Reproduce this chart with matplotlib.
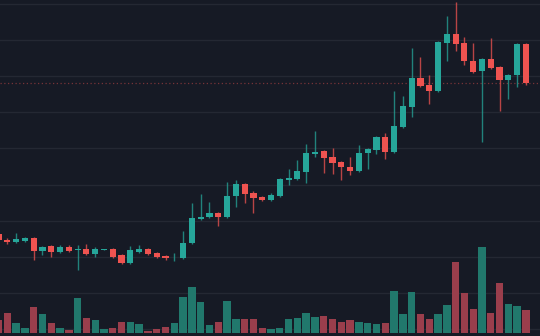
import numpy as np
import matplotlib.pyplot as plt

# daily candles, oldest first
opens = [363, 346, 341, 344, 352, 316, 330, 313, 327, 319, 321, 308, 319, 321, 305, 283,
         313, 321, 310, 302, 299, 296, 338, 405, 410, 421, 410, 468, 501, 477, 465, 457,
         468, 512, 515, 535, 584, 593, 576, 562, 548, 537, 587, 596, 632, 590, 659, 715,
         795, 776, 759, 892, 917, 892, 842, 814, 848, 826, 790, 803, 889]
highs = [366, 352, 366, 355, 355, 330, 332, 332, 332, 332, 335, 327, 322, 324, 308, 330,
         332, 324, 313, 305, 310, 371, 449, 474, 452, 424, 507, 512, 504, 482, 468, 477,
         518, 543, 568, 612, 648, 596, 601, 565, 576, 609, 601, 634, 643, 759, 745, 878,
         853, 803, 897, 967, 1006, 909, 892, 850, 906, 828, 806, 892, 892]
lows = [344, 335, 338, 341, 291, 305, 299, 310, 313, 263, 305, 299, 318, 296, 280, 280,
        310, 305, 296, 291, 288, 294, 335, 402, 407, 385, 407, 438, 449, 421, 454, 454,
        465, 499, 512, 504, 576, 532, 529, 512, 526, 535, 543, 584, 571, 587, 656, 687,
        770, 723, 756, 842, 870, 831, 809, 618, 820, 704, 737, 770, 776]
closes = [346, 341, 349, 352, 316, 327, 313, 327, 316, 321, 308, 321, 321, 299, 283, 319,
          321, 308, 299, 296, 299, 338, 407, 410, 421, 410, 468, 501, 474, 463, 457, 471,
          515, 518, 537, 587, 590, 573, 560, 548, 537, 587, 598, 632, 590, 662, 717, 795,
          773, 759, 895, 917, 889, 842, 812, 848, 823, 790, 803, 889, 781]
volumes = [130, 203, 103, 53, 257, 190, 103, 53, 30, 347, 153, 130, 37, 53, 110, 113,
           87, 23, 37, 63, 103, 363, 463, 313, 85, 110, 320, 142, 138, 142, 52, 37,
           50, 140, 150, 197, 163, 173, 138, 107, 130, 108, 103, 90, 100, 423, 187, 413,
           187, 140, 187, 280, 713, 403, 240, 857, 197, 503, 287, 273, 230]

bg = "#161a25"
up, down = "#26a69a", "#ef5350"
vol_up, vol_down = "#21786c", "#9a3e4c"

o = np.array(opens, dtype=float)
h = np.array(highs, dtype=float)
l = np.array(lows, dtype=float)
c = np.array(closes, dtype=float)
v = np.array(volumes, dtype=float)
x = np.arange(len(o))
rising = c >= o

price_lim = (80.4, 1011.1)
vol_lim = (-30, 3330)

fig = plt.figure(figsize=(5.4, 3.36), dpi=100, facecolor=bg)
ax = fig.add_axes([0, 0, 1, 1])
vax = ax.twinx()

# volume axis is drawn first, so it carries the grid and sits under the candles
vax.set_facecolor(bg)
vax.bar(x, v, width=0.84, color=np.where(rising, vol_up, vol_down), linewidth=0)
vax.set_ylim(*vol_lim)
price_ticks = np.arange(100, 1001, 100)
vax.set_yticks(np.interp(price_ticks, price_lim, vol_lim))
vax.set_xticks([6, 18, 30, 42, 54])
vax.grid(True, color="#242833", linewidth=1.0)
vax.set_axisbelow(True)

ax.set_zorder(vax.get_zorder() + 1)
ax.patch.set_visible(False)

colors = np.where(rising, up, down)
body = np.abs(c - o)
ax.vlines(x, l, h, colors=colors, linewidth=1.0, alpha=0.75, zorder=2)
ax.bar(x, np.maximum(body, 2.0), bottom=np.minimum(o, c) - (body < 2.0),
       width=0.7, color=colors, linewidth=0, zorder=3)

# last price marker
ax.axhline(c[-1], color=down, alpha=0.45, linewidth=0.9, linestyle=(0, (1, 2)), zorder=1)

ax.set_xlim(0.17, 61.6)
ax.set_ylim(*price_lim)

for a in (ax, vax):
    a.tick_params(left=False, right=False, bottom=False, top=False,
                  labelleft=False, labelright=False, labelbottom=False)
    for s in a.spines.values():
        s.set_visible(False)

fig.savefig("out.png", dpi=100, facecolor=bg)
